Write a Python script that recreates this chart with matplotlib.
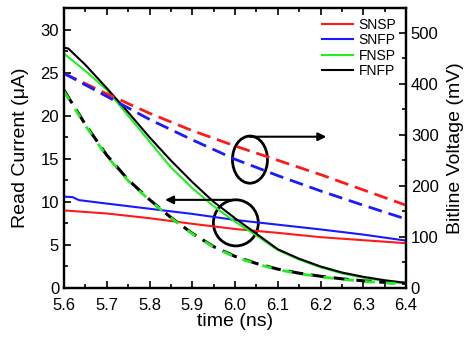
import numpy as np
import matplotlib
matplotlib.use("Agg")
import matplotlib.pyplot as plt
from matplotlib.patches import Ellipse
from matplotlib.ticker import MultipleLocator

plt.rcParams['font.family'] = ['Liberation Sans', 'DejaVu Sans']

# read current (left axis, uA)
t_snsp = [5.60, 5.70, 5.80, 5.90, 6.00, 6.10, 6.20, 6.30, 6.40]
i_snsp = [9.0, 8.65, 8.1, 7.45, 6.85, 6.4, 5.9, 5.55, 5.2]
t_snfp = [5.60, 5.62, 5.635, 5.70, 5.80, 5.90, 6.00, 6.10, 6.20, 6.30, 6.40]
i_snfp = [10.6, 10.55, 10.2, 9.8, 9.2, 8.6, 7.9, 7.35, 6.8, 6.2, 5.5]
t_fast = [5.60, 5.65, 5.70, 5.75, 5.80, 5.85, 5.90, 5.95, 6.00,
          6.05, 6.10, 6.15, 6.20, 6.25, 6.30, 6.35, 6.40]
i_fnsp = [27.2, 25.2, 23.0, 20.0, 17.0, 14.0, 11.6, 9.5, 7.7,
          6.1, 4.4, 3.3, 2.4, 1.7, 1.2, 0.8, 0.5]
t_fnfp = [5.60, 5.61, 5.65, 5.70, 5.75, 5.80, 5.85, 5.90, 5.95, 6.00,
          6.05, 6.10, 6.15, 6.20, 6.25, 6.30, 6.35, 6.40]
i_fnfp = [27.9, 27.8, 25.9, 23.2, 20.4, 17.5, 14.8, 12.3, 10.0, 8.1,
          6.3, 4.5, 3.4, 2.5, 1.8, 1.3, 0.9, 0.6]

# bitline voltage (right axis, mV)
t_slow = [5.60, 5.70, 5.80, 5.90, 6.00, 6.10, 6.20, 6.30, 6.40]
v_snsp = [420, 380, 342, 308, 278, 250, 222, 192, 162]
v_snfp = [420, 375, 330, 290, 252, 220, 190, 162, 135]
v_fnsp = [385, 318, 258, 210, 172, 137, 106, 80, 61,
          47, 36, 28, 22, 17, 13, 10, 8]
v_fnfp = [387, 320, 260, 212, 173, 138, 107, 81, 62,
          48, 37, 29, 23, 18, 14, 11, 9]

fig = plt.figure(figsize=(4.72, 3.39), dpi=100)
ax = fig.add_axes([64/472, 51/339, 342/472, 280/339])
ax2 = ax.twinx()

ax.plot(t_snsp, i_snsp, color='#ff1a1a', lw=1.5, label='SNSP')
ax.plot(t_snfp, i_snfp, color='#1a1aff', lw=1.5, label='SNFP')
ax.plot(t_fast, i_fnsp, color='#22ee22', lw=1.5, label='FNSP')
ax.plot(t_fnfp, i_fnfp, color='black', lw=1.5, label='FNFP')

ax2.plot(t_slow, v_snsp, color='#ff1a1a', lw=2, dashes=(5, 2.5))
ax2.plot(t_slow, v_snfp, color='#1a1aff', lw=2, dashes=(5, 2.5))
ax2.plot(t_fast, v_fnfp, color='black', lw=2.2, dashes=(5, 2.5))
ax2.plot(t_fast, v_fnsp, color='#22ee22', lw=2, dashes=(3.5, 4), dash_capstyle='butt')

ax.set_xlim(5.6, 6.4)
ax.set_ylim(0, 32.5)
ax2.set_ylim(0, 548)

ax.xaxis.set_major_locator(MultipleLocator(0.1))
ax.xaxis.set_minor_locator(MultipleLocator(0.05))
ax.yaxis.set_major_locator(MultipleLocator(5))
ax.yaxis.set_minor_locator(MultipleLocator(2.5))
ax2.yaxis.set_major_locator(MultipleLocator(100))
ax2.yaxis.set_minor_locator(MultipleLocator(50))
ax.xaxis.set_major_formatter(plt.FuncFormatter(lambda v, p: f'{v:.1f}'))

ax.tick_params(which='both', direction='in', top=True, labelsize=12, width=1.2)
ax.tick_params(which='major', length=5)
ax.tick_params(which='minor', length=3)
ax.tick_params(axis='x', pad=7)
ax2.tick_params(which='both', direction='in', labelsize=12, width=1.2)
ax2.tick_params(which='major', length=5)
ax2.tick_params(which='minor', length=3)
for a in (ax, ax2):
    for s in a.spines.values():
        s.set_linewidth(1.6)

ax.set_xlabel('time (ns)', fontsize=14, labelpad=0)
ax.set_ylabel('Read Current (\u03bcA)', fontsize=14, labelpad=8)
ax2.set_ylabel('Bitline Voltage (mV)', fontsize=14, labelpad=6)

# annotations
ax.add_patch(Ellipse((6.035, 14.9), 0.082, 5.47, fill=False, ec='black', lw=2))
ax.annotate('', xy=(6.22, 17.56), xytext=(6.028, 17.56),
            arrowprops=dict(arrowstyle='-|>', color='black', lw=1.5, mutation_scale=12))
ax.add_patch(Ellipse((6.002, 7.56), 0.105, 5.35, fill=False, ec='black', lw=2))
ax.annotate('', xy=(5.83, 10.23), xytext=(6.002, 10.23),
            arrowprops=dict(arrowstyle='-|>', color='black', lw=1.5, mutation_scale=12))

ax.legend(loc='upper right', frameon=False, fontsize=10, handlelength=2.2,
          labelspacing=0.1, handletextpad=0.4, borderaxespad=0.3)

fig.savefig('out.png', dpi=100)
